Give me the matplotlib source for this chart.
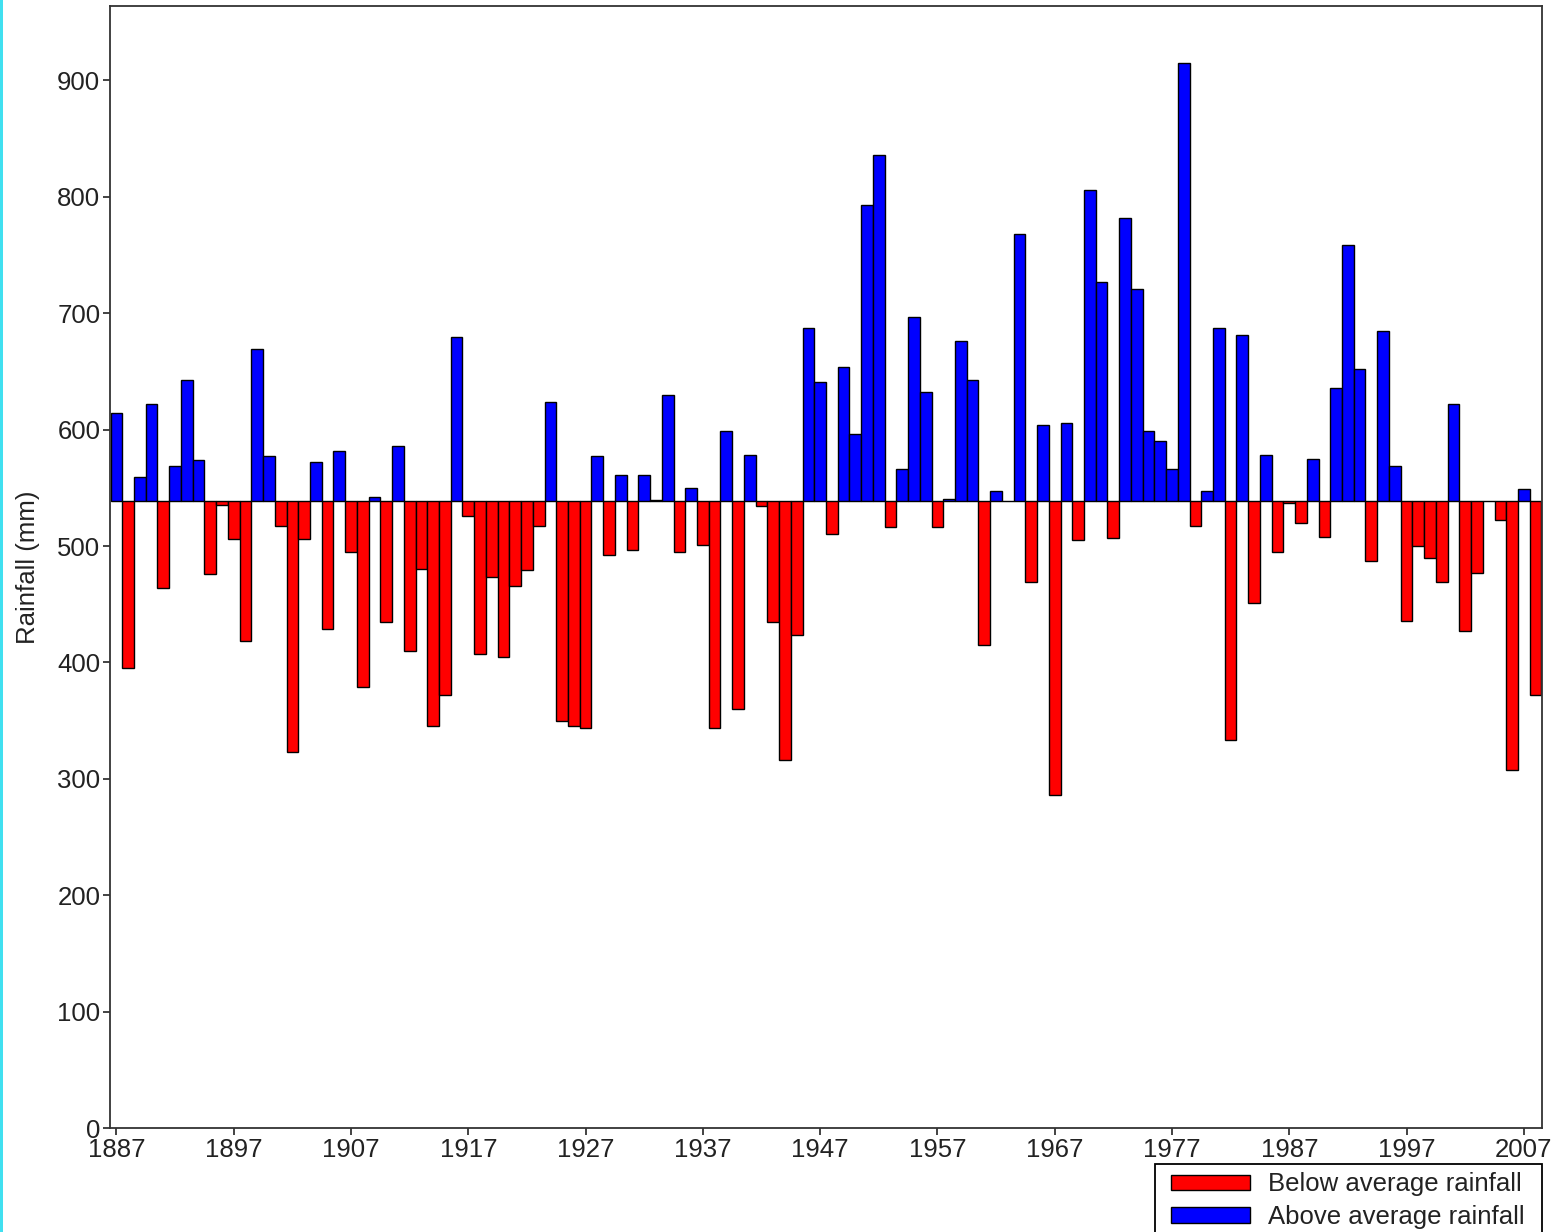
import matplotlib
matplotlib.use("Agg")
import matplotlib.pyplot as plt
from matplotlib.patches import Patch, Rectangle
import numpy as np

plt.rcParams['font.family'] = ['Liberation Sans', 'DejaVu Sans']

start_year = 1887
average = 538.3
rainfall = [
    614, 395, 559, 622, 464, 569, 643, 574, 476, 535,
    506, 418, 669, 577, 517, 323, 506, 572, 429, 582,
    495, 379, 542, 435, 586, 410, 480, 345, 372, 680,
    526, 407, 473, 405, 466, 479, 517, 624, 350, 345,
    344, 577, 492, 561, 497, 561, 539.6, 630, 495, 550,
    501, 344, 599, 360, 578, 534, 435, 316, 424, 687,
    641, 510, 654, 596, 793, 836, 516, 566, 697, 632,
    516, 540, 676, 643, 415, 547, 538.3, 768, 469, 604,
    286, 606, 505, 806, 727, 507, 782, 721, 599, 590,
    566, 915, 517, 547, 687, 333, 681, 451, 578, 495,
    537, 520, 575, 508, 636, 759, 652, 487, 685, 569,
    436, 500, 490, 469, 622, 427, 477, 538.3, 522, 308,
    549, 372,
]
years = np.arange(start_year, start_year + len(rainfall))
xtick_years = list(range(1887, 2008, 10))
ytick_values = list(range(0, 1000, 100))
legend_labels = ["Below average rainfall", "Above average rainfall"]

W, H = 1555, 1232
fig = plt.figure(figsize=(W / 100, H / 100), dpi=100)
ax = fig.add_axes([110 / W, 1 - 1128 / H, (1542 - 110) / W, (1128 - 6) / H])

vals = np.array(rainfall, dtype=float)
heights = vals - average
colors = ['blue' if h > 0 else 'red' for h in heights]
ax.bar(years, heights, bottom=average, width=1.0, color=colors,
       edgecolor='black', linewidth=1.0)

ax.set_xlim(1886.45, 2008.55)
ax.set_ylim(0, 964)
ax.set_xticks(xtick_years)
ax.set_xticklabels([str(y) for y in xtick_years])
ax.set_yticks(ytick_values)
ax.tick_params(axis='both', labelsize=18.5, length=5, width=1.2, pad=2,
               colors='#222222')
ax.set_ylabel("Rainfall (mm)", fontsize=18.5, labelpad=12, color='#222222')
for s in ax.spines.values():
    s.set_linewidth(1.3)
    s.set_color('#333333')

handles = [Patch(facecolor='red', edgecolor='black'),
           Patch(facecolor='blue', edgecolor='black')]
leg = fig.legend(handles, legend_labels, loc='upper left',
                 bbox_to_anchor=(1171 / W, 1 - 1172.5 / H), borderaxespad=0,
                 fontsize=18.5, frameon=False,
                 handlelength=3.07, handleheight=0.55,
                 handletextpad=0.7, labelspacing=0.33, borderpad=0)
for t in leg.get_texts():
    t.set_color('#222222')

fig.patches.append(Rectangle((1155 / W, -0.05), (1542 - 1155) / W,
                             0.05 + (1 - 1164 / H), transform=fig.transFigure,
                             facecolor='none', edgecolor='black',
                             linewidth=1.3))
fig.patches.append(Rectangle((0, 0), 2.5 / W, 1, transform=fig.transFigure,
                             facecolor='#40E0F0', edgecolor='none'))

fig.savefig("out.png", dpi=100)
